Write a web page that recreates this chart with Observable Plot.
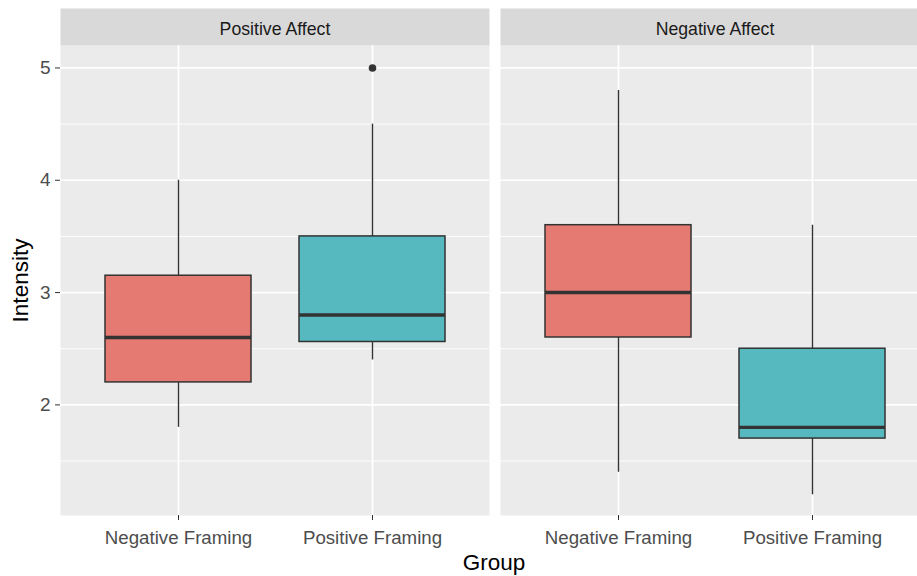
<!DOCTYPE html>
<html>
<head>
<meta charset="utf-8">
<script src="https://cdn.jsdelivr.net/npm/d3@7"></script>
<script src="https://cdn.jsdelivr.net/npm/@observablehq/plot@0.6"></script>
<style>
  html, body { margin: 0; padding: 0; background: #fff; }
  #wrap { position: relative; width: 917px; height: 576px; overflow: hidden; font-family: "Liberation Sans", Arial, sans-serif; }
  #chart svg { max-width: none !important; }
  #xtitle { position: absolute; left: 0; width: 988px; top: 550px; text-align: center; font-size: 22.5px; color: #000; line-height: 26px; }
</style>
</head>
<body>
<div id="wrap">
  <div id="chart"></div>
  <div id="xtitle">Group</div>
</div>
<script>
// ---- data ----
const facets = ["Positive Affect", "Negative Affect"];
const groups = ["Negative Framing", "Positive Framing"];
const boxAffect = ["Positive Affect", "Positive Affect", "Negative Affect", "Negative Affect"];
const boxGroup  = ["Negative Framing", "Positive Framing", "Negative Framing", "Positive Framing"];
const whiskerLow  = [1.8, 2.4, 1.4, 1.2];
const q1          = [2.2, 2.56, 2.6, 1.7];
const median      = [2.6, 2.8, 3.0, 1.8];
const q3          = [3.15, 3.5, 3.6, 2.5];
const whiskerHigh = [4.0, 4.5, 4.8, 3.6];
const outlierAffect = ["Positive Affect"];
const outlierGroup  = ["Positive Framing"];
const outlierValue  = [5];
const yTicks = [2, 3, 4, 5];
const yMinor = [1.5, 2.5, 3.5, 4.5];

const rows = boxAffect.map((a, i) => ({
  affect: a, group: boxGroup[i],
  lo: whiskerLow[i], q1: q1[i], med: median[i], q3: q3[i], hi: whiskerHigh[i]
}));
const outliers = outlierValue.map((v, i) => ({affect: outlierAffect[i], group: outlierGroup[i], value: v}));

const fillRed = "#E47A72", fillTeal = "#56B9BF";

const chart = Plot.plot({
  width: 929,
  height: 550,
  marginLeft: 59,
  marginRight: 0,
  marginTop: 45,
  marginBottom: 35,
  style: {fontFamily: "'Liberation Sans', Arial, sans-serif", background: "transparent"},
  fx: {domain: facets, axis: null, paddingInner: 11 / 440, paddingOuter: 0},
  x: {type: "band", domain: groups, paddingInner: 0.25, paddingOuter: 0.225, align: 0.5},
  y: {domain: [1.015, 5.2]},
  color: {domain: groups, range: [fillRed, fillTeal]},
  marks: [
    Plot.frame({fill: "#EBEBEB"}),
    Plot.frame({fill: "#D9D9D9", insetTop: -37, insetBottom: 470}),
    Plot.text(facets, {fx: d => d, text: d => d, frameAnchor: "top", dy: -23.5, fontSize: 17.7, fill: "#1A1A1A"}),
    Plot.ruleY(yMinor, {stroke: "#FFFFFF", strokeWidth: 0.9}),
    Plot.ruleY(yTicks, {stroke: "#FFFFFF", strokeWidth: 1.7}),
    Plot.ruleX(groups, {x: d => d, stroke: "#FFFFFF", strokeWidth: 1.7}),
    Plot.ruleX(rows, {fx: "affect", x: "group", y1: "lo", y2: "hi", stroke: "#333333", strokeWidth: 1.4}),
    Plot.barY(rows, {fx: "affect", x: "group", y1: "q1", y2: "q3", fill: "group", stroke: "#333333", strokeWidth: 1.5}),
    Plot.tickY(rows, {fx: "affect", x: "group", y: "med", stroke: "#333333", strokeWidth: 3.4}),
    Plot.dot(outliers, {fx: "affect", x: "group", y: "value", r: 3.8, fill: "#333333", stroke: "none"}),
    Plot.axisY({ticks: yTicks, tickFormat: d => String(d), tickSize: 5, tickPadding: 5, fontSize: 19, fill: "#4D4D4D", stroke: "#333333", label: null}),
    Plot.axisY({ticks: yTicks, tickSize: 0, tickFormat: () => "", label: "Intensity", labelAnchor: "center", labelArrow: "none", labelOffset: 48, fontSize: 22.5, fill: "#000000"}),
    Plot.axisX({tickSize: 5, tickPadding: 10, fontSize: 18.7, fill: "#4D4D4D", stroke: "#333333", label: null})
  ]
});
document.getElementById("chart").appendChild(chart);
</script>
</body>
</html>
